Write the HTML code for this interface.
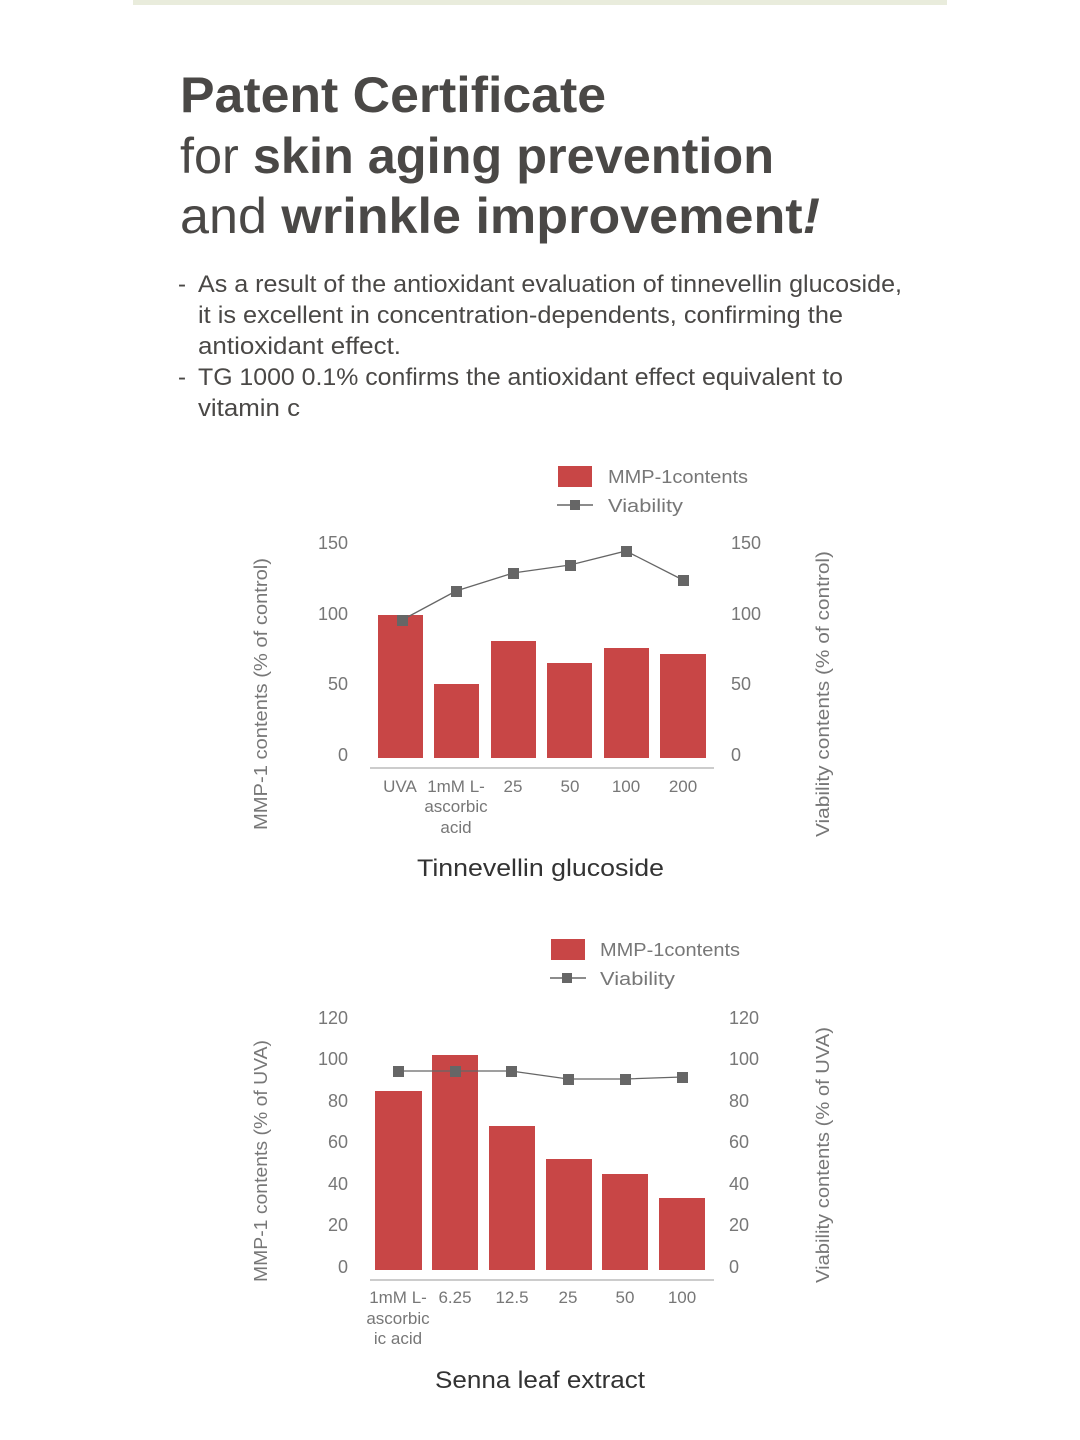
<!DOCTYPE html>
<html><head><meta charset="utf-8"><style>
html,body{margin:0;padding:0;background:#fff;}
svg{display:block;font-family:"Liberation Sans",sans-serif;}
</style></head><body>
<svg width="1080" height="1440" viewBox="0 0 1080 1440" xmlns="http://www.w3.org/2000/svg">
<rect x="133" y="0" width="814" height="5" fill="#e9ecdc"/>
<g fill="#4a4846" font-size="50">
<text x="180" y="112" font-weight="bold" textLength="426" lengthAdjust="spacingAndGlyphs">Patent Certificate</text>
<text x="180" y="173" textLength="594" lengthAdjust="spacingAndGlyphs">for <tspan font-weight="bold">skin aging prevention</tspan></text>
<text x="180" y="233" textLength="640" lengthAdjust="spacingAndGlyphs">and <tspan font-weight="bold">wrinkle improvement</tspan><tspan font-weight="bold" font-style="italic">!</tspan></text>
</g>
<g fill="#4a4846" font-size="24">
<text x="178" y="292">-</text>
<text x="198" y="292" textLength="704" lengthAdjust="spacingAndGlyphs">As a result of the antioxidant evaluation of tinnevellin glucoside,</text>
<text x="198" y="323" textLength="645" lengthAdjust="spacingAndGlyphs">it is excellent in concentration-dependents, confirming the</text>
<text x="198" y="354" textLength="203" lengthAdjust="spacingAndGlyphs">antioxidant effect.</text>
<text x="178" y="385">-</text>
<text x="198" y="385" textLength="645" lengthAdjust="spacingAndGlyphs">TG 1000 0.1% confirms the antioxidant effect equivalent to</text>
<text x="198" y="416" textLength="102" lengthAdjust="spacingAndGlyphs">vitamin c</text>
</g>

<!-- Chart 1 -->
<g font-size="18" fill="#777">
<rect x="558" y="466" width="34" height="21" fill="#c84646"/>
<text x="608" y="483" textLength="140" lengthAdjust="spacingAndGlyphs">MMP-1contents</text>
<line x1="557" y1="505" x2="593" y2="505" stroke="#666" stroke-width="1.5"/>
<rect x="570" y="500" width="10" height="10" fill="#666"/>
<text x="608" y="512" textLength="75" lengthAdjust="spacingAndGlyphs">Viability</text>
<text x="348" y="549" text-anchor="end">150</text>
<text x="348" y="620" text-anchor="end">100</text>
<text x="348" y="690" text-anchor="end">50</text>
<text x="348" y="761" text-anchor="end">0</text>
<text x="731" y="549">150</text>
<text x="731" y="620">100</text>
<text x="731" y="690">50</text>
<text x="731" y="761">0</text>
<text transform="translate(267,830) rotate(-90)" textLength="272" lengthAdjust="spacingAndGlyphs">MMP-1 contents (% of control)</text>
<text transform="translate(829,837) rotate(-90)" textLength="286" lengthAdjust="spacingAndGlyphs">Viability contents (% of control)</text>
<g fill="#c84646">
<rect x="378" y="615" width="45" height="143"/>
<rect x="434" y="684" width="45" height="74"/>
<rect x="491" y="641" width="45" height="117"/>
<rect x="547" y="663" width="45" height="95"/>
<rect x="604" y="648" width="45" height="110"/>
<rect x="660" y="654" width="46" height="104"/>
</g>
<line x1="370" y1="768" x2="714" y2="768" stroke="#bbb" stroke-width="1.5"/>
<polyline points="402,620 456,591 513,573 570,565 626,551 683,580" fill="none" stroke="#666" stroke-width="1.3"/>
<g fill="#666">
<rect x="397" y="615" width="11" height="11"/><rect x="451" y="586" width="11" height="11"/><rect x="508" y="568" width="11" height="11"/><rect x="565" y="560" width="11" height="11"/><rect x="621" y="546" width="11" height="11"/><rect x="678" y="575" width="11" height="11"/>
</g>
<g text-anchor="middle" font-size="17">
<text x="400" y="792">UVA</text>
<text x="456" y="792">1mM L-</text><text x="456" y="812">ascorbic</text><text x="456" y="833">acid</text>
<text x="513" y="792">25</text><text x="570" y="792">50</text><text x="626" y="792">100</text><text x="683" y="792">200</text>
</g>
<text x="417" y="876" font-size="24" fill="#333" textLength="247" lengthAdjust="spacingAndGlyphs">Tinnevellin glucoside</text>
</g>

<!-- Chart 2 -->
<g font-size="18" fill="#777">
<rect x="551" y="939" width="34" height="21" fill="#c84646"/>
<text x="600" y="956" textLength="140" lengthAdjust="spacingAndGlyphs">MMP-1contents</text>
<line x1="550" y1="978" x2="586" y2="978" stroke="#666" stroke-width="1.5"/>
<rect x="562" y="973" width="10" height="10" fill="#666"/>
<text x="600" y="985" textLength="75" lengthAdjust="spacingAndGlyphs">Viability</text>
<g text-anchor="end">
<text x="348" y="1024">120</text><text x="348" y="1065">100</text><text x="348" y="1107">80</text><text x="348" y="1148">60</text><text x="348" y="1190">40</text><text x="348" y="1231">20</text><text x="348" y="1273">0</text>
</g>
<text x="729" y="1024">120</text><text x="729" y="1065">100</text><text x="729" y="1107">80</text><text x="729" y="1148">60</text><text x="729" y="1190">40</text><text x="729" y="1231">20</text><text x="729" y="1273">0</text>
<text transform="translate(267,1282) rotate(-90)" textLength="242" lengthAdjust="spacingAndGlyphs">MMP-1 contents (% of UVA)</text>
<text transform="translate(829,1283) rotate(-90)" textLength="256" lengthAdjust="spacingAndGlyphs">Viability contents (% of UVA)</text>
<g fill="#c84646">
<rect x="375" y="1091" width="47" height="179"/>
<rect x="432" y="1055" width="46" height="215"/>
<rect x="489" y="1126" width="46" height="144"/>
<rect x="546" y="1159" width="46" height="111"/>
<rect x="602" y="1174" width="46" height="96"/>
<rect x="659" y="1198" width="46" height="72"/>
</g>
<line x1="370" y1="1280" x2="714" y2="1280" stroke="#bbb" stroke-width="1.5"/>
<polyline points="398,1071 455,1071 511,1071 568,1079 625,1079 682,1077" fill="none" stroke="#666" stroke-width="1.3"/>
<g fill="#666">
<rect x="393" y="1066" width="11" height="11"/><rect x="450" y="1066" width="11" height="11"/><rect x="506" y="1066" width="11" height="11"/><rect x="563" y="1074" width="11" height="11"/><rect x="620" y="1074" width="11" height="11"/><rect x="677" y="1072" width="11" height="11"/>
</g>
<g text-anchor="middle" font-size="17">
<text x="398" y="1303">1mM L-</text><text x="398" y="1324">ascorbic</text><text x="398" y="1344">ic acid</text>
<text x="455" y="1303">6.25</text><text x="512" y="1303">12.5</text><text x="568" y="1303">25</text><text x="625" y="1303">50</text><text x="682" y="1303">100</text>
</g>
<text x="435" y="1388" font-size="24" fill="#333" textLength="210" lengthAdjust="spacingAndGlyphs">Senna leaf extract</text>
</g>
</svg>
</body></html>
